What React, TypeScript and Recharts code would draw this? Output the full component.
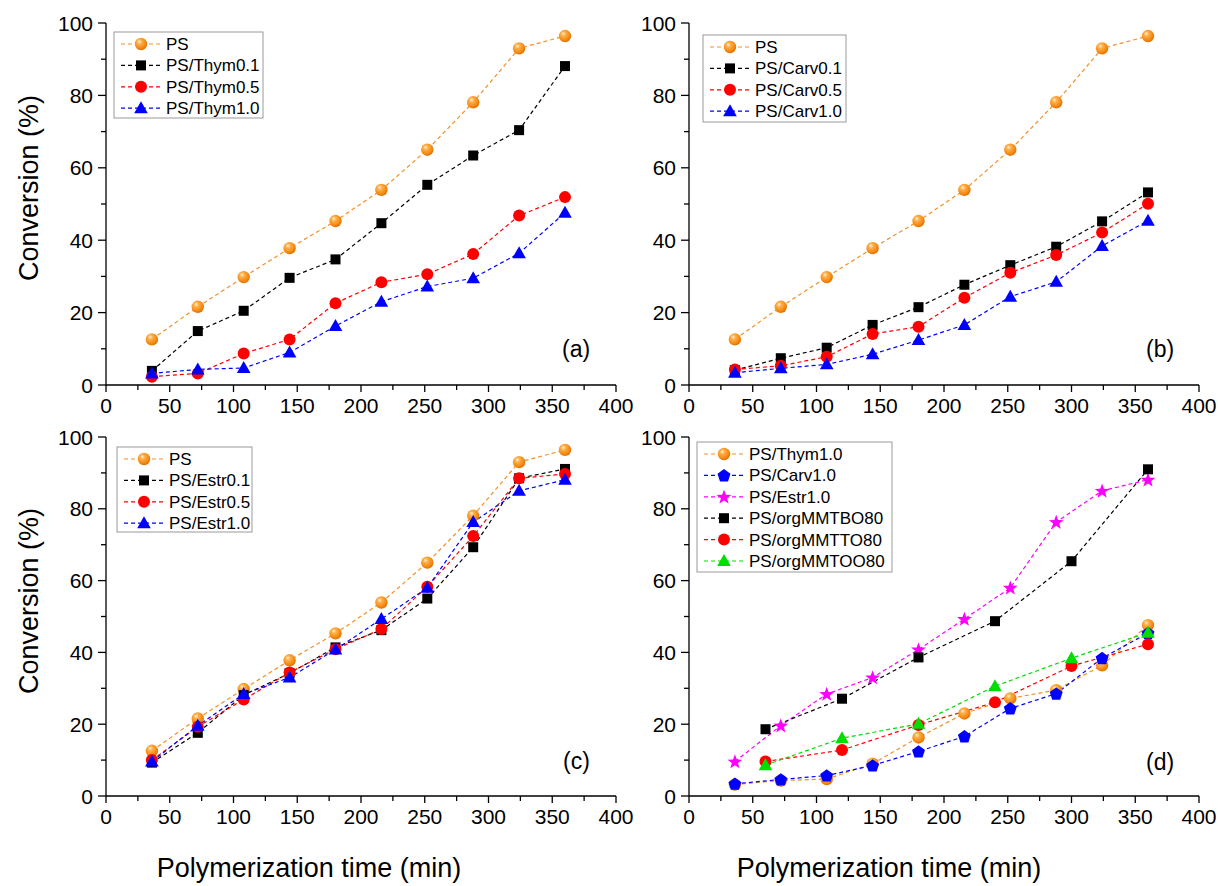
import React from 'react';
import { LineChart, Line, XAxis, YAxis } from 'recharts';

// polymerization times (min)
const times = [36, 72, 108, 144, 180, 216, 252, 288, 324, 360];
const timesOrg = [60, 120, 180, 240, 300, 360];

const xTicks = [0, 25, 50, 75, 100, 125, 150, 175, 200, 225, 250, 275, 300, 325, 350, 375, 400];
const yTicks = [0, 10, 20, 30, 40, 50, 60, 70, 80, 90, 100];

// conversion (%)
const psConv = [12.6, 21.6, 29.8, 37.8, 45.3, 53.9, 65.0, 78.1, 93.0, 96.4];
const thym01 = [3.9, 14.9, 20.5, 29.6, 34.7, 44.7, 55.3, 63.4, 70.4, 88.1];
const thym05 = [2.3, 3.2, 8.7, 12.6, 22.6, 28.4, 30.6, 36.2, 46.8, 51.9];
const thym10 = [3.2, 4.3, 4.7, 9.0, 16.3, 23.0, 27.2, 29.5, 36.4, 47.6];
const carv01 = [4.1, 7.4, 10.3, 16.6, 21.5, 27.7, 33.1, 38.2, 45.2, 53.2];
const carv05 = [4.3, 5.3, 7.8, 14.1, 16.1, 24.1, 31.0, 35.9, 42.1, 50.1];
const carv10 = [3.4, 4.6, 5.7, 8.5, 12.4, 16.6, 24.4, 28.5, 38.4, 45.4];
const estr01 = [9.3, 17.6, 28.1, 34.2, 41.4, 46.2, 55.0, 69.3, 88.5, 91.1];
const estr05 = [10.0, 19.3, 26.9, 34.4, 40.9, 46.5, 58.3, 72.4, 88.5, 89.7];
const estr10 = [9.6, 19.6, 28.4, 33.0, 40.8, 49.3, 58.0, 76.3, 85.0, 88.1];
const orgBO = [18.6, 27.1, 38.6, 48.7, 65.4, 91.0];
const orgTO = [9.6, 12.8, 19.8, 26.1, 36.2, 42.3];
const orgOO = [8.6, 16.1, 20.1, 30.6, 38.4, 45.5];

const FONT = "'Liberation Sans', Arial, sans-serif";
const ORANGE = '#f3902a';
const RED = '#ff0000';
const BLUE = '#0000ff';
const BLACK = '#000000';
const MAGENTA = '#ff00ff';
const GREEN = '#00dd00';

type Shape = 'ball' | 'square' | 'circle' | 'triangle' | 'pentagon' | 'star';
interface Series {
  name: string;
  xs: number[];
  ys: number[];
  shape: Shape;
  color: string;
}

const panelA: Series[] = [
  { name: 'PS', xs: times, ys: psConv, shape: 'ball', color: ORANGE },
  { name: 'PS/Thym0.1', xs: times, ys: thym01, shape: 'square', color: BLACK },
  { name: 'PS/Thym0.5', xs: times, ys: thym05, shape: 'circle', color: RED },
  { name: 'PS/Thym1.0', xs: times, ys: thym10, shape: 'triangle', color: BLUE },
];
const panelB: Series[] = [
  { name: 'PS', xs: times, ys: psConv, shape: 'ball', color: ORANGE },
  { name: 'PS/Carv0.1', xs: times, ys: carv01, shape: 'square', color: BLACK },
  { name: 'PS/Carv0.5', xs: times, ys: carv05, shape: 'circle', color: RED },
  { name: 'PS/Carv1.0', xs: times, ys: carv10, shape: 'triangle', color: BLUE },
];
const panelC: Series[] = [
  { name: 'PS', xs: times, ys: psConv, shape: 'ball', color: ORANGE },
  { name: 'PS/Estr0.1', xs: times, ys: estr01, shape: 'square', color: BLACK },
  { name: 'PS/Estr0.5', xs: times, ys: estr05, shape: 'circle', color: RED },
  { name: 'PS/Estr1.0', xs: times, ys: estr10, shape: 'triangle', color: BLUE },
];
const panelD: Series[] = [
  { name: 'PS/Thym1.0', xs: times, ys: thym10, shape: 'ball', color: ORANGE },
  { name: 'PS/Carv1.0', xs: times, ys: carv10, shape: 'pentagon', color: BLUE },
  { name: 'PS/Estr1.0', xs: times, ys: estr10, shape: 'star', color: MAGENTA },
  { name: 'PS/orgMMTBO80', xs: timesOrg, ys: orgBO, shape: 'square', color: BLACK },
  { name: 'PS/orgMMTTO80', xs: timesOrg, ys: orgTO, shape: 'circle', color: RED },
  { name: 'PS/orgMMTOO80', xs: timesOrg, ys: orgOO, shape: 'triangle', color: GREEN },
];

const polyPoints = (cx: number, cy: number, n: number, rOut: number, rIn?: number) => {
  const pts: string[] = [];
  const total = rIn ? n * 2 : n;
  for (let i = 0; i < total; i++) {
    const r = rIn && i % 2 === 1 ? rIn : rOut;
    const a = -Math.PI / 2 + (i * 2 * Math.PI) / total;
    pts.push(`${cx + r * Math.cos(a)},${cy + r * Math.sin(a)}`);
  }
  return pts.join(' ');
};

const Marker = ({ shape, cx, cy, color }: { shape: Shape; cx: number; cy: number; color: string }) => {
  if (cx == null || cy == null) return null;
  switch (shape) {
    case 'ball':
      return <circle cx={cx} cy={cy} r={6.2} fill="url(#ballGrad)" />;
    case 'square':
      return <rect x={cx - 5} y={cy - 5} width={10} height={10} fill={color} />;
    case 'circle':
      return <circle cx={cx} cy={cy} r={6} fill={color} />;
    case 'triangle':
      return <polygon points={`${cx},${cy - 7} ${cx + 6.8},${cy + 5} ${cx - 6.8},${cy + 5}`} fill={color} />;
    case 'pentagon':
      return <polygon points={polyPoints(cx, cy + 0.5, 5, 6.8)} fill={color} />;
    case 'star':
      return <polygon points={polyPoints(cx, cy + 0.5, 5, 7.8, 3.2)} fill={color} />;
  }
  return null;
};

const BallGrad = () => (
  <defs>
    <radialGradient id="ballGrad" cx="0.42" cy="0.38" r="0.62" fx="0.35" fy="0.3">
      <stop offset="0%" stopColor="#fff2d8" />
      <stop offset="30%" stopColor="#ffb04a" />
      <stop offset="75%" stopColor="#f58a12" />
      <stop offset="100%" stopColor="#e07000" />
    </radialGradient>
  </defs>
);

const BottomTick = ({ x, y, payload }: any) => {
  const v = payload.value;
  const major = v % 50 === 0;
  return (
    <g>
      <line x1={x} x2={x} y1={y} y2={y + (major ? 7 : 5)} stroke="#000" strokeWidth={1.3} />
      {major && (
        <text x={x} y={y + 28} textAnchor="middle" fontSize={21} fontFamily={FONT} fill="#000">
          {v}
        </text>
      )}
    </g>
  );
};

const TopTick = ({ x, y }: any) => (
  <line x1={x} x2={x} y1={y} y2={y + 6} stroke="#000" strokeWidth={1.3} />
);

const LeftTick = ({ x, y, payload }: any) => {
  const v = payload.value;
  const major = v % 20 === 0;
  return (
    <g>
      <line x1={x - (major ? 8 : 5)} x2={x} y1={y} y2={y} stroke="#000" strokeWidth={1.3} />
      {major && (
        <text x={x - 13} y={y} dy="0.36em" textAnchor="end" fontSize={21} fontFamily={FONT} fill="#000">
          {v}
        </text>
      )}
    </g>
  );
};

const RightTick = ({ x, y }: any) => (
  <line x1={x - 6} x2={x} y1={y} y2={y} stroke="#000" strokeWidth={1.3} />
);

const axisLine = { stroke: '#000', strokeWidth: 1.3 };

const Panel = ({ left, top, plotW, plotH, series }: { left: number; top: number; plotW: number; plotH: number; series: Series[] }) => (
  <div style={{ position: 'absolute', left: left - 66, top: top - 18 }}>
    <LineChart width={plotW + 66 + 28} height={plotH + 18 + 45} margin={{ top: 18, right: 28, bottom: 5, left: 16 }}>
      <BallGrad />
      <XAxis
        dataKey="x"
        type="number"
        domain={[0, 400]}
        ticks={xTicks}
        interval={0}
        height={40}
        tickSize={0}
        tickMargin={0}
        tick={<BottomTick />}
        tickLine={false}
        axisLine={axisLine}
      />
      <XAxis
        xAxisId="top"
        orientation="top"
        dataKey="x"
        type="number"
        domain={[0, 400]}
        ticks={xTicks}
        interval={0}
        height={0}
        tickSize={0}
        tickMargin={0}
        tick={<TopTick />}
        tickLine={false}
        axisLine={axisLine}
      />
      <YAxis
        type="number"
        domain={[0, 100]}
        ticks={yTicks}
        interval={0}
        width={50}
        tickSize={0}
        tickMargin={0}
        tick={<LeftTick />}
        tickLine={false}
        axisLine={axisLine}
      />
      <YAxis
        yAxisId="right"
        orientation="right"
        type="number"
        domain={[0, 100]}
        ticks={yTicks}
        interval={0}
        width={0}
        tickSize={0}
        tickMargin={0}
        tick={<RightTick />}
        tickLine={false}
        axisLine={axisLine}
      />
      {series.map((s) => (
        <Line
          key={s.name}
          data={s.xs.map((x, i) => ({ x, y: s.ys[i] }))}
          dataKey="y"
          type="linear"
          stroke={s.color}
          strokeWidth={1.2}
          strokeDasharray="4 3"
          isAnimationActive={false}
          activeDot={false}
          dot={(p: any) => <Marker key={`${s.name}-${p.index}`} shape={s.shape} cx={p.cx} cy={p.cy} color={s.color} />}
        />
      ))}
    </LineChart>
  </div>
);

const LegendBox = ({ x, y, w, h, series }: { x: number; y: number; w: number; h: number; series: Series[] }) => (
  <g>
    <rect x={x} y={y} width={w} height={h} fill="#fff" stroke="#9a9a9a" strokeWidth={1} />
    {series.map((s, i) => {
      const cy = y + 12 + i * 21.4;
      return (
        <g key={s.name}>
          <line x1={x + 7} x2={x + 46} y1={cy} y2={cy} stroke={s.color} strokeWidth={1.2} strokeDasharray="4 3" />
          <Marker shape={s.shape} cx={x + 27} cy={cy} color={s.color} />
          <text x={x + 52} y={cy + 6} fontSize={17} fontFamily={FONT} fill="#000">
            {s.name}
          </text>
        </g>
      );
    })}
  </g>
);

export default function App() {
  return (
    <div style={{ position: 'absolute', left: 0, top: 0, width: 1218, height: 886, background: '#fff', overflow: 'hidden' }}>
      <Panel left={106} top={23} plotW={510} plotH={362} series={panelA} />
      <Panel left={689} top={23} plotW={510} plotH={362} series={panelB} />
      <Panel left={106} top={437} plotW={510} plotH={359} series={panelC} />
      <Panel left={689} top={437} plotW={510} plotH={359} series={panelD} />
      <svg width={1218} height={886} style={{ position: 'absolute', left: 0, top: 0, pointerEvents: 'none' }}>
        <BallGrad />
        <text transform="translate(38,188) rotate(-90)" textAnchor="middle" fontSize={27} fontFamily={FONT} fill="#000">
          Conversion (%)
        </text>
        <text transform="translate(38,601) rotate(-90)" textAnchor="middle" fontSize={27} fontFamily={FONT} fill="#000">
          Conversion (%)
        </text>
        <text x={309} y={877} textAnchor="middle" fontSize={27} fontFamily={FONT} fill="#000">
          Polymerization time (min)
        </text>
        <text x={889} y={877} textAnchor="middle" fontSize={27} fontFamily={FONT} fill="#000">
          Polymerization time (min)
        </text>
        <text x={562} y={357} fontSize={23} fontFamily={FONT} fill="#000">(a)</text>
        <text x={1146} y={357} fontSize={23} fontFamily={FONT} fill="#000">(b)</text>
        <text x={563} y={769} fontSize={23} fontFamily={FONT} fill="#000">(c)</text>
        <text x={1146} y={770} fontSize={23} fontFamily={FONT} fill="#000">(d)</text>
        <LegendBox x={114} y={32} w={149} h={86} series={panelA} />
        <LegendBox x={703} y={35} w={143} h={87} series={panelB} />
        <LegendBox x={117} y={447} w={135} h={85} series={panelC} />
        <LegendBox x={697} y={442} w={195} h={130} series={panelD} />
      </svg>
    </div>
  );
}
